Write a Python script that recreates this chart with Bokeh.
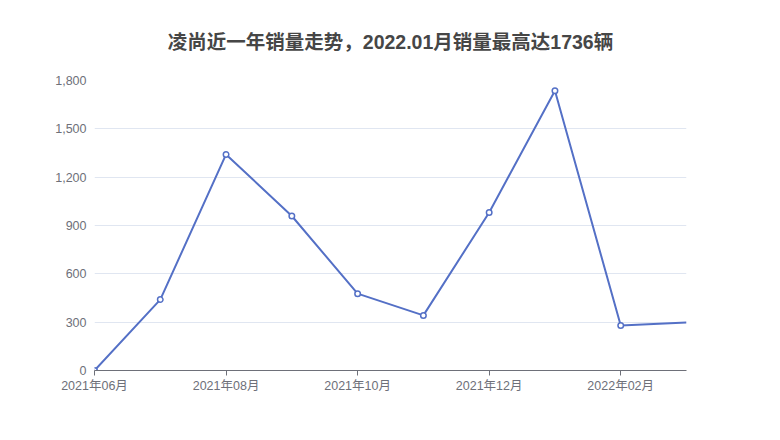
from bokeh.plotting import figure
from bokeh.models import Range1d, FixedTicker, NumeralTickFormatter, ColumnDataSource
from bokeh.embed import file_html
from bokeh.resources import INLINE

months = ["2021年06月", "2021年07月", "2021年08月", "2021年09月", "2021年10月",
          "2021年11月", "2021年12月", "2022年01月", "2022年02月", "2022年03月"]
sales = [0, 440, 1341, 959, 477, 342, 981, 1736, 279, 298]
y_ticks = [0, 300, 600, 900, 1200, 1500, 1800]
title_text = "凌尚近一年销量走势，2022.01月销量最高达1736辆"

FONT = "'Liberation Sans', 'Noto Sans CJK SC', sans-serif"

xs = list(range(len(months)))
src = ColumnDataSource(dict(x=xs, y=sales))
src_m = ColumnDataSource(dict(x=xs[:-1], y=sales[:-1]))

p = figure(width=764, height=424, output_backend="svg", toolbar_location=None,
           x_range=Range1d(0, len(months) - 1), y_range=Range1d(0, 1800),
           min_border_left=94, min_border_right=78, min_border_top=80, min_border_bottom=54,
           background_fill_color="white", border_fill_color="white")
p.outline_line_color = None

p.title.text = title_text
p.title.align = "center"
p.title.text_font = FONT
p.title.text_font_size = "19.5px"
p.title.text_font_style = "bold"
p.title.text_color = "#464646"
p.title.standoff = 56

p.line("x", "y", source=src, line_color="#5470c6", line_width=2)
p.scatter("x", "y", source=src_m, size=5.5, fill_color="white", line_color="#5470c6", line_width=1.5)

p.xgrid.visible = False
p.ygrid.grid_line_color = "#E0E6F1"
p.ygrid.grid_line_width = 1

p.xaxis.ticker = FixedTicker(ticks=xs[::2])
p.xaxis.major_label_overrides = {i: months[i] for i in xs}
p.xaxis.axis_line_color = "#6E7079"
p.xaxis.major_tick_line_color = "#6E7079"
p.xaxis.major_tick_out = 5
p.xaxis.major_tick_in = 0
p.xaxis.minor_tick_line_color = None
p.xaxis.major_label_text_font = FONT
p.xaxis.major_label_text_font_size = "12.5px"
p.xaxis.major_label_text_color = "#6E7079"
p.xaxis.major_label_standoff = 3

p.yaxis.ticker = FixedTicker(ticks=y_ticks)
p.yaxis.formatter = NumeralTickFormatter(format="0,0")
p.yaxis.axis_line_color = None
p.yaxis.major_tick_line_color = None
p.yaxis.major_tick_out = 0
p.yaxis.major_tick_in = 0
p.yaxis.minor_tick_line_color = None
p.yaxis.minor_tick_out = 0
p.yaxis.major_label_text_font = FONT
p.yaxis.major_label_text_font_size = "12.5px"
p.yaxis.major_label_text_color = "#6E7079"
p.yaxis.major_label_standoff = 8

open("out.html", "w").write(file_html(p, INLINE))
